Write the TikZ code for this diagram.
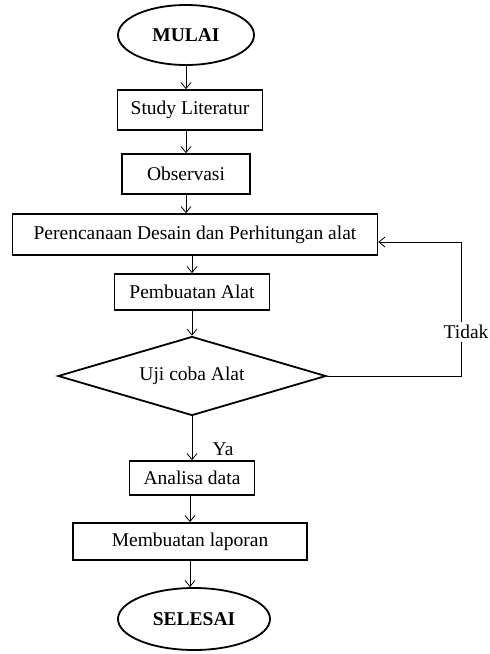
\documentclass[tikz,border=0pt]{standalone}
\usepackage{fontspec}
\setmainfont{Liberation Serif}
\usetikzlibrary{arrows.meta,positioning,shapes.geometric}

\begin{document}
\begin{tikzpicture}[x=1pt,y=-1pt,
    font=\fontsize{19.5}{22}\selectfont,
    proses/.style={draw,line width=1.8pt,rectangle,inner sep=0pt},
    terminal/.style={draw,line width=1.8pt,ellipse,inner sep=0pt,font=\fontsize{19.5}{22}\selectfont\bfseries},
    keputusan/.style={draw,line width=1.8pt,diamond,aspect=3.3,inner sep=0pt},
    panah/.style={-{Straight Barb[length=6pt,width=10pt]},line width=0.8pt}]
  \useasboundingbox (0,0) rectangle (490,654);

  % langkah-langkah
  \node[terminal,minimum width=136pt,minimum height=60pt] (mulai) at (186,35) {MULAI};
  \node[proses,minimum width=145pt,minimum height=40pt] (study) at (190,110) {Study Literatur};
  \node[proses,minimum width=128pt,minimum height=40pt] (observasi) at (186,174) {Observasi};
  \node[proses,minimum width=365pt,minimum height=41pt] (rencana) at (195,234.5) {Perencanaan Desain dan Perhitungan alat};
  \node[proses,minimum width=155pt,minimum height=36pt] (pembuatan) at (192,292) {Pembuatan Alat};
  \node[keputusan,minimum width=268pt,minimum height=79pt] (uji) at (192,376) {Uji coba Alat};
  \node[proses,minimum width=125pt,minimum height=34pt] (analisa) at (192,478) {Analisa data};
  \node[proses,minimum width=234pt,minimum height=37pt] (laporan) at (190,541.5) {Membuatan laporan};
  \node[terminal,minimum width=152pt,minimum height=62pt] (selesai) at (194,619) {SELESAI};

  % panah
  \draw[panah] (mulai.south) -- (mulai.south |- study.north);
  \draw[panah] (observasi.north |- study.south) -- (observasi.north);
  \draw[panah] (observasi.south) -- (observasi.south |- rencana.north);
  \draw[panah] (pembuatan.north |- rencana.south) -- (pembuatan.north);
  \draw[panah] (pembuatan.south) -- (uji.north);
  \draw[panah] (uji.south) -- node[near end,right=17pt] {Ya} (analisa.north);
  \draw[panah] (laporan.north |- analisa.south) -- (laporan.north);
  \draw[panah] (laporan.south) -- (laporan.south |- selesai.north);

  % kembali jika tidak
  \coordinate (kanan) at (461,242);
  \draw[panah] (uji.east) -- (uji.east -| kanan)
    -- node[pos=0.33,fill=white,xshift=5pt] {Tidak} (kanan) -- (kanan -| rencana.east);
\end{tikzpicture}
\end{document}
